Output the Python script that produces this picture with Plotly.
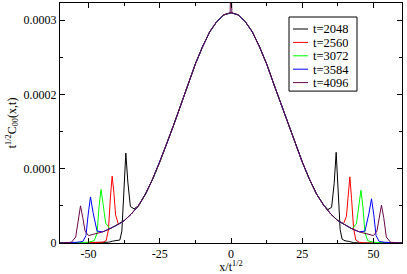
import plotly.graph_objects as go

# ---------------- data ----------------
SERIES = ["t=2048", "t=2560", "t=3072", "t=3584", "t=4096"]
COLORS = ["#000000", "#ff0000", "#00ff00", "#0000ff", "#670748"]

# shared central body, x/t^{1/2} from -30 to 30
BODY_X = [-30, -27.5, -25, -22.5, -20, -17.5, -15, -12.5, -10, -7.5, -5, -2.5, 0,
          2.5, 5, 7.5, 10, 12.5, 15, 17.5, 20, 22.5, 25, 27.5, 30]
BODY_Y = [0.66e-4, 0.86e-4, 1.09e-4, 1.34e-4, 1.60e-4, 1.87e-4, 2.14e-4, 2.41e-4, 2.64e-4,
          2.84e-4, 2.98e-4, 3.07e-4, 3.10e-4,
          3.07e-4, 2.98e-4, 2.84e-4, 2.64e-4, 2.41e-4, 2.14e-4, 1.87e-4, 1.60e-4, 1.34e-4,
          1.09e-4, 0.86e-4, 0.66e-4]

# outer parts (|x| > 30) of each series: |x| positions, left-side and right-side values
X_2048 = [32.5, 34, 35.3, 36.2, 36.9, 37.6, 38.3, 39, 40, 41.5, 43, 46, 50, 54, 58, 60]
L_2048 = [5.0e-5, 4.6e-5, 4.9e-5, 8.2e-5, 1.21e-4, 7.2e-5, 1.6e-5, 4e-6, 3e-6, 2.5e-6, 1e-6, 0, 0, 0, 0, 0]
R_2048 = [5.1e-5, 4.5e-5, 4.8e-5, 8.0e-5, 1.22e-4, 7.0e-5, 1.8e-5, 5e-6, 3e-6, 2e-6, 0.5e-6, 0, 0, 0, 0, 0]

X_2560 = [32.5, 35, 37.5, 39.5, 40.5, 41.1, 41.7, 42.3, 43, 43.8, 45, 47, 50, 54, 58, 60]
L_2560 = [5.0e-5, 3.9e-5, 3.0e-5, 2.5e-5, 3.8e-5, 6.8e-5, 9.0e-5, 6.2e-5, 1.8e-5, 3e-6, 1e-6, 0, 0, 0, 0, 0]
R_2560 = [5.1e-5, 3.9e-5, 3.0e-5, 2.6e-5, 3.6e-5, 6.5e-5, 8.9e-5, 6.0e-5, 2.0e-5, 4e-6, 1e-6, 0, 0, 0, 0, 0]

X_3072 = [32.5, 35, 37.5, 40, 42.5, 44, 44.9, 45.6, 46.3, 47, 48, 50, 54, 58, 60]
L_3072 = [5.0e-5, 3.9e-5, 3.0e-5, 2.4e-5, 1.9e-5, 2.7e-5, 5.3e-5, 7.2e-5, 4.9e-5, 1.3e-5, 3e-6, 1e-6, 0, 0, 0]
R_3072 = [5.1e-5, 3.9e-5, 3.0e-5, 2.4e-5, 1.9e-5, 2.6e-5, 5.2e-5, 7.1e-5, 4.8e-5, 1.4e-5, 3e-6, 1e-6, 0, 0, 0]

X_3584 = [32.5, 35, 37.5, 40, 42.5, 45, 47, 48.4, 49.3, 50.1, 50.9, 52, 54, 58, 60]
L_3584 = [5.0e-5, 3.9e-5, 3.0e-5, 2.4e-5, 1.9e-5, 1.5e-5, 1.6e-5, 4.1e-5, 6.2e-5, 3.9e-5, 1.0e-5, 2e-6, 1e-6, 0, 0]
R_3584 = [5.1e-5, 3.9e-5, 3.0e-5, 2.4e-5, 1.9e-5, 1.5e-5, 1.6e-5, 4.0e-5, 5.95e-5, 3.8e-5, 1.0e-5, 2e-6, 1e-6, 0, 0]

X_4096 = [32.5, 35, 37.5, 40, 42.5, 45, 47.5, 50, 51.2, 52, 52.8, 53.6, 54.5, 56, 58, 60]
L_4096 = [5.0e-5, 3.9e-5, 3.0e-5, 2.4e-5, 1.9e-5, 1.5e-5, 1.2e-5, 1.0e-5, 1.6e-5, 3.4e-5, 5.0e-5, 3.3e-5, 8e-6, 1e-6, 0, 0]
R_4096 = [5.1e-5, 3.9e-5, 3.0e-5, 2.4e-5, 1.9e-5, 1.5e-5, 1.2e-5, 1.0e-5, 1.6e-5, 3.5e-5, 5.1e-5, 3.4e-5, 8e-6, 1e-6, 0, 0]

# narrow spike at the centre (t=4096)
SPIKE_X = [-0.3, 0, 0.3]
SPIKE_Y = [3.10e-4, 3.60e-4, 3.10e-4]

OUTER = [(X_2048, L_2048, R_2048), (X_2560, L_2560, R_2560), (X_3072, L_3072, R_3072),
         (X_3584, L_3584, R_3584), (X_4096, L_4096, R_4096)]

X_TICKS = [-50, -25, 0, 25, 50]
X_TICK_TEXT = ["-50", "-25", "0", "25", "50"]
Y_TICKS = [0, 0.0001, 0.0002, 0.0003]
Y_TICK_TEXT = ["0", "0.0001", "0.0002", "0.0003"]

# ---------------- figure ----------------
FONT = "Liberation Serif, Times New Roman, serif"
W, H = 407, 274
ML, MR, MT, MB = 60, 5, 3, 31
PW, PH = W - ML - MR, H - MT - MB


def px(xp):  # pixel -> paper x
    return (xp - ML) / PW


def py(yp):  # pixel -> paper y
    return (H - MB - yp) / PH


fig = go.Figure()
for name, color, (xo, yl, yr) in zip(SERIES, COLORS, OUTER):
    xs = [-v for v in reversed(xo)] + BODY_X + list(xo)
    ys = list(reversed(yl)) + BODY_Y + list(yr)
    fig.add_trace(go.Scatter(x=xs, y=ys, mode="lines", name=name, showlegend=False,
                             line=dict(color=color, width=1)))
fig.add_trace(go.Scatter(x=SPIKE_X, y=SPIKE_Y, mode="lines", showlegend=False,
                         line=dict(color=COLORS[-1], width=1)))

# legend box (xmgrace style: short line samples, tight rows)
ROW0, ROWSTEP = 29.0, 13.4
shapes = [dict(type="rect", xref="paper", yref="paper",
               x0=px(289), x1=px(357), y0=py(ROW0 + 4 * ROWSTEP + 8.5), y1=py(17),
               line=dict(color="black", width=1), fillcolor="white", layer="above")]
annotations = []
for i, (name, color) in enumerate(zip(SERIES, COLORS)):
    yc = ROW0 + i * ROWSTEP
    shapes.append(dict(type="line", xref="paper", yref="paper",
                       x0=px(293), x1=px(308), y0=py(yc), y1=py(yc),
                       line=dict(color=color, width=1), layer="above"))
    annotations.append(dict(xref="paper", yref="paper", x=px(312), y=py(yc),
                            xanchor="left", yanchor="middle", text=name, showarrow=False,
                            height=13, borderpad=0,
                            font=dict(family=FONT, size=12.5, color="black")))

axis_common = dict(showgrid=False, zeroline=False, showline=True, linecolor="black",
                   linewidth=1, mirror="ticks", ticks="inside", ticklen=5,
                   tickcolor="black", automargin=False,
                   tickfont=dict(family=FONT, size=12, color="black"))

fig.update_layout(
    width=W, height=H,
    margin=dict(l=ML, r=MR, t=MT, b=MB),
    paper_bgcolor="white", plot_bgcolor="white",
    font=dict(family=FONT, size=12, color="black"),
    xaxis=dict(range=[-60, 60], tickvals=X_TICKS, ticktext=X_TICK_TEXT,
               minor=dict(dtick=12.5, tick0=0, ticklen=3, ticks="inside", tickcolor="black"),
               title=dict(text="x/t<sup>1/2</sup>", standoff=0,
                          font=dict(family=FONT, size=12)),
               **axis_common),
    yaxis=dict(range=[0, 0.000323], tickvals=Y_TICKS, ticktext=Y_TICK_TEXT,
               minor=dict(dtick=0.00005, tick0=0, ticklen=3, ticks="inside", tickcolor="black"),
               title=dict(text="t<sup>1/2</sup>C<sub>00</sub>(x,t)", standoff=4,
                          font=dict(family=FONT, size=12)),
               **axis_common),
    shapes=shapes,
    annotations=annotations,
    showlegend=False,
)

fig.write_html("out.html", config={"displayModeBar": False},
               post_script="document.body.style.margin='0';document.body.style.overflow='hidden';")
